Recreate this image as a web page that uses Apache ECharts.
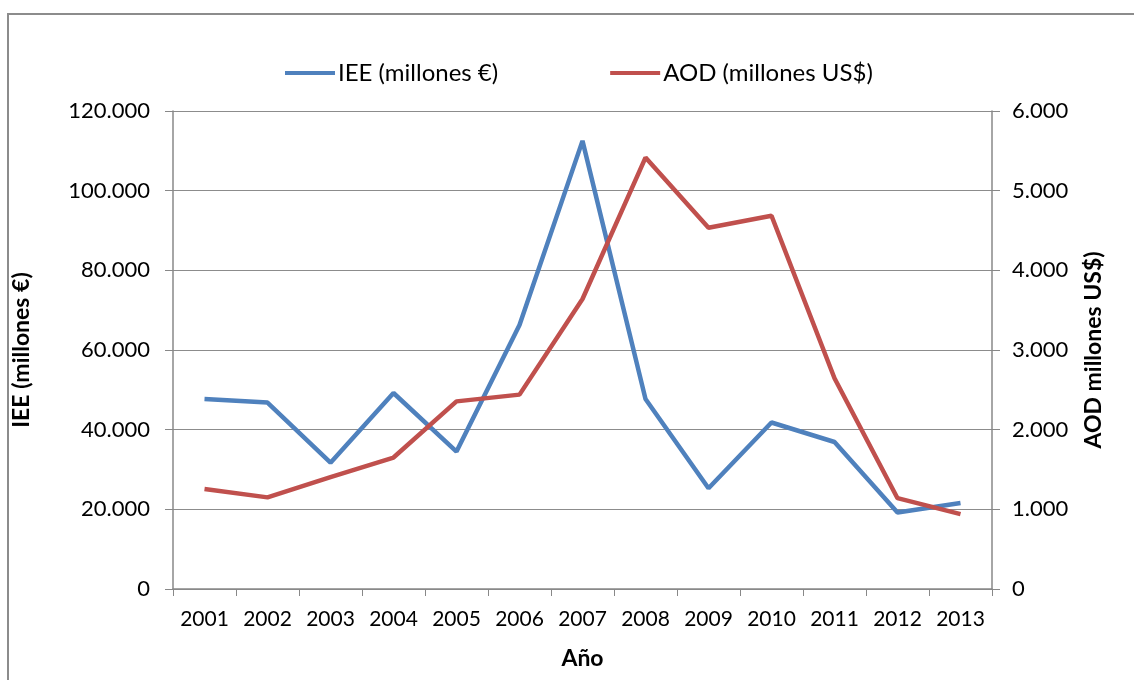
<!DOCTYPE html>
<html><head><meta charset="utf-8">
<script src="https://cdn.jsdelivr.net/npm/echarts@6/dist/echarts.min.js"></script>
<style>html,body{margin:0;padding:0;background:#fff}#c{width:1134px;height:680px}</style>
</head><body><div id="c"></div>
<script>
const years = ['2001','2002','2003','2004','2005','2006','2007','2008','2009','2010','2011','2012','2013'];
const iee = [47700, 46800, 31700, 49200, 34500, 66300, 112500, 47700, 25300, 41800, 36900, 19200, 21600];
const aod = [1255, 1150, 1405, 1650, 2355, 2440, 3640, 5415, 4535, 4685, 2645, 1140, 940];
const leftTicks = [0, 20000, 40000, 60000, 80000, 100000, 120000];
const rightTicks = [0, 1000, 2000, 3000, 4000, 5000, 6000];
const FONT = 'Lato,"Open Sans",sans-serif';
function fmt(v){ return v === 0 ? '0' : String(v).replace(/\B(?=(\d{3})+(?!\d))/g, '.'); }
const chart = echarts.init(document.getElementById('c'), null, {renderer:'canvas'});
chart.setOption({
  animation:false,
  backgroundColor:'#fff',
  textStyle:{fontFamily:FONT},
  graphic:[{type:'rect', shape:{x:8,y:14,width:1140,height:700}, style:{fill:'none', stroke:'#8c8c8c', lineWidth:2}, z:-1}],
  legend:{
    top:56, left:280, itemWidth:50, itemHeight:4, itemGap:112, icon:'rect',
    textStyle:{fontFamily:FONT, fontSize:24, color:'#000', padding:[0,0,0,-2]},
    data:['IEE (millones €)','AOD (millones US$)']
  },
  grid:{left:173, right:142, top:111, bottom:91},
  xAxis:{
    type:'category', data:years, boundaryGap:true,
    name:'Año', nameLocation:'middle', nameGap:58,
    nameTextStyle:{fontFamily:FONT, fontSize:23, fontWeight:'bold', color:'#000'},
    axisLine:{lineStyle:{color:'#888', width:1.5}},
    axisTick:{show:true, length:7, interval:0, lineStyle:{color:'#888'}, alignWithLabel:false},
    axisLabel:{fontFamily:FONT, fontSize:21, color:'#000', margin:20, interval:0, hideOverlap:false}
  },
  yAxis:[{
    type:'value', min:leftTicks[0], max:leftTicks[leftTicks.length-1], interval:leftTicks[1]-leftTicks[0],
    name:'IEE (millones €)', nameLocation:'middle', nameGap:140, nameRotate:90,
    nameTextStyle:{fontFamily:FONT, fontSize:23, fontWeight:'bold', color:'#000'},
    axisLine:{show:true, lineStyle:{color:'#888', width:1.5}},
    axisTick:{show:true, length:8, lineStyle:{color:'#888'}},
    axisLabel:{fontFamily:FONT, fontSize:22, color:'#000', margin:23, formatter:fmt},
    splitLine:{lineStyle:{color:'#8c8c8c', width:1.2}}
  },{
    type:'value', min:rightTicks[0], max:rightTicks[rightTicks.length-1], interval:rightTicks[1]-rightTicks[0],
    name:'AOD millones US$)', nameLocation:'middle', nameGap:90, nameRotate:90,
    nameTextStyle:{fontFamily:FONT, fontSize:23, fontWeight:'bold', color:'#000'},
    axisLine:{show:true, lineStyle:{color:'#888', width:1.5}},
    axisTick:{show:true, length:8, lineStyle:{color:'#888'}},
    axisLabel:{fontFamily:FONT, fontSize:22, color:'#000', margin:20, formatter:fmt},
    splitLine:{show:false}
  }],
  series:[
    {name:'IEE (millones €)', type:'line', data:iee, yAxisIndex:0, symbol:'none',
     lineStyle:{color:'#4F81BD', width:4.5}, itemStyle:{color:'#4F81BD'}},
    {name:'AOD (millones US$)', type:'line', data:aod, yAxisIndex:1, symbol:'none',
     lineStyle:{color:'#C0504D', width:4.5}, itemStyle:{color:'#C0504D'}}
  ]
});
</script></body></html>
